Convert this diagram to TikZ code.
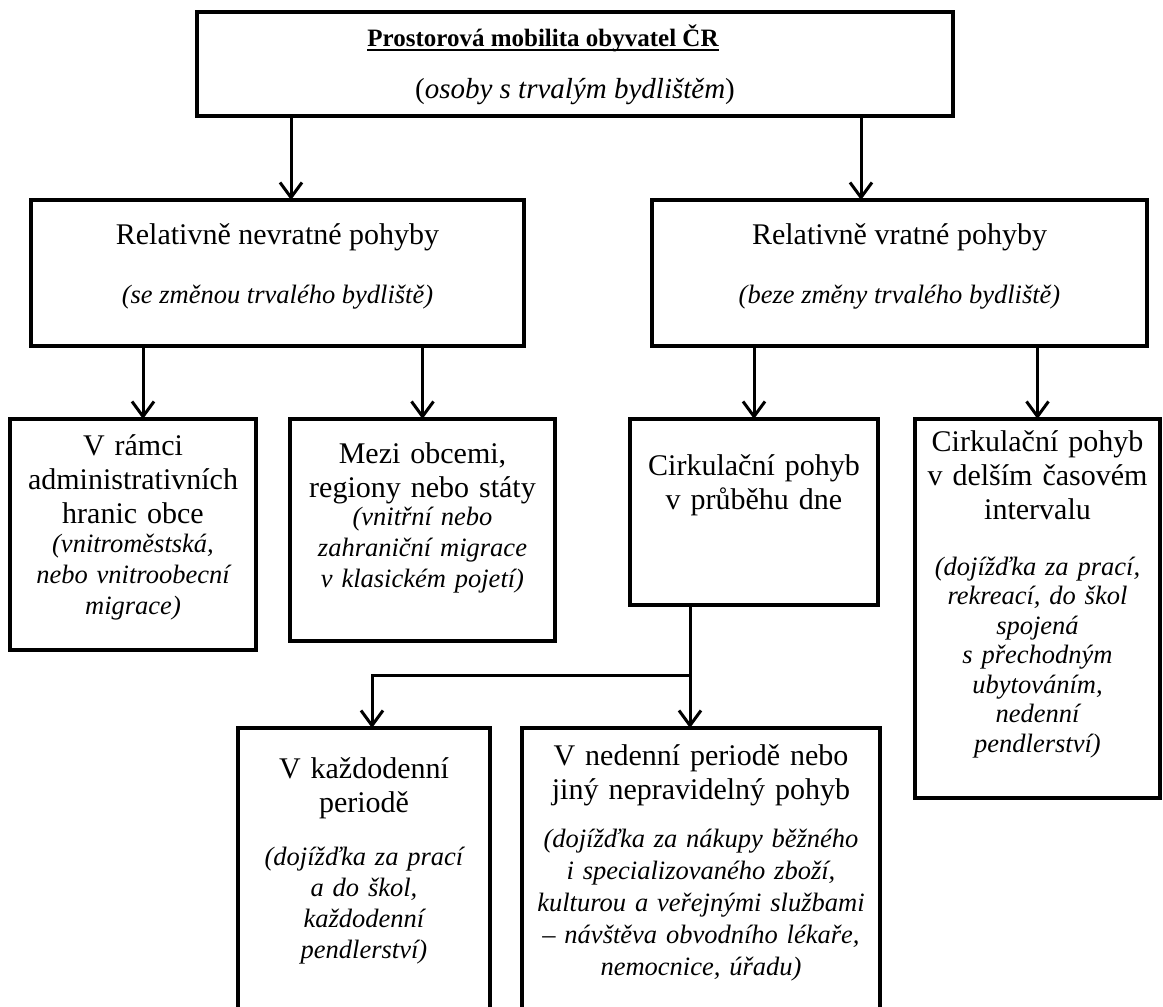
\documentclass[tikz,border=0pt]{standalone}
\usepackage{fontspec}
\setmainfont{Liberation Serif}
\usetikzlibrary{arrows.meta,calc}

\newcommand{\txthead}{\fontsize{30}{34}\selectfont}
\newcommand{\txtnote}{\itshape\fontsize{26.5}{31}\selectfont}

\begin{document}
\begin{tikzpicture}[x=1pt, y=-1pt,
  box/.style={draw, rectangle, line width=3.5pt, inner sep=0pt, outer sep=0pt},
  head/.style={anchor=base, align=center, font=\txthead},
  note/.style={anchor=base, align=center, font=\txtnote},
  link/.style={line width=3pt},
  arr/.style={line width=3pt, -{Straight Barb[length=15pt, width=22pt]}}]
  \useasboundingbox (0,0) rectangle (1163,1007);
  \clip (0,0) rectangle (1163,1007);

  % top
  \node[box, minimum width=756, minimum height=104] (mob) at (575,64) {};
  \node[head, font=\bfseries\fontsize{25}{30}\selectfont, inner sep=0pt] (mobT) at ([xshift=-32, yshift=-34]mob.north)
    {Prostorová mobilita obyvatel ČR};
  \draw[line width=1.8pt] ([yshift=-4]mobT.base west) -- ([yshift=-4]mobT.base east);
  \node[head, font=\fontsize{29}{33}\selectfont] (mobS) at ([yshift=-86]mob.north)
    {(\textit{osoby s trvalým bydlištěm})};

  % second row
  \node[box, minimum width=493, minimum height=146] (nevr) at (277.5,273) {};
  \node[head] (nevrT) at ([yshift=-44]nevr.north) {Relativně nevratné pohyby};
  \node[note] (nevrS) at ([yshift=-103]nevr.north) {(se změnou trvalého bydliště)};

  \node[box, minimum width=495, minimum height=146] (vrat) at (899.5,273) {};
  \node[head] (vratT) at ([yshift=-44]vrat.north) {Relativně vratné pohyby};
  \node[note] (vratS) at ([yshift=-103]vrat.north) {(beze změny trvalého bydliště)};

  % third row
  \node[box, minimum width=246, minimum height=231] (ramci) at (133,534.5) {};
  \node[head, text width=240] (ramciT) at ([yshift=-36]ramci.north)
    {V rámci\\ administrativních\\ hranic obce};
  \node[note, text width=240] (ramciS) at ([yshift=-133]ramci.north)
    {(vnitroměstská,\\ nebo vnitroobecní\\ migrace)};

  \node[box, minimum width=265, minimum height=222] (mezi) at (422.5,530) {};
  \node[head, text width=259] (meziT) at ([yshift=-44]mezi.north)
    {Mezi obcemi,\\ regiony nebo státy};
  \node[note, text width=259] (meziS) at ([yshift=-106]mezi.north)
    {(vnitřní nebo\\ zahraniční migrace\\ v klasickém pojetí)};

  \node[box, minimum width=248, minimum height=186] (den) at (754,512) {};
  \node[head, text width=242] (denT) at ([yshift=-56]den.north)
    {Cirkulační pohyb\\ v průběhu dne};

  \node[box, minimum width=245, minimum height=379] (delsi) at (1037.5,608.5) {};
  \node[head, text width=239] (delsiT) at ([yshift=-32]delsi.north)
    {Cirkulační pohyb\\ v delším časovém\\ intervalu};
  \node[note, text width=239, font=\itshape\fontsize{26.5}{29.5}\selectfont] (delsiS) at ([yshift=-156]delsi.north)
    {(dojížďka za prací,\\ rekreací, do škol\\ spojená\\ s přechodným\\ ubytováním,\\ nedenní\\ pendlerství)};

  % bottom row
  \node[box, minimum width=252, minimum height=312] (kazdo) at (364,884) {};
  \node[head, text width=246] (kazdoT) at ([yshift=-50]kazdo.north)
    {V každodenní\\ periodě};
  \node[note, text width=246] (kazdoS) at ([yshift=-137]kazdo.north)
    {(dojížďka za prací\\ a do škol,\\ každodenní\\ pendlerství)};

  \node[box, minimum width=358, minimum height=312] (neden) at (701,884) {};
  \node[head, text width=352] (nedenT) at ([yshift=-37]neden.north)
    {V nedenní periodě nebo\\ jiný nepravidelný pohyb};
  \node[note, text width=352, font=\itshape\fontsize{26.5}{32}\selectfont] (nedenS) at ([yshift=-119]neden.north)
    {(dojížďka za nákupy běžného\\ i specializovaného zboží,\\ kulturou a veřejnými službami\\ -- návštěva obvodního lékaře,\\ nemocnice, úřadu)};

  % arrows
  \draw[arr] ([xshift=-284]mob.south) -- ([xshift=13.5]nevr.north);
  \draw[arr] ([xshift=286]mob.south) -- ([xshift=-38.5]vrat.north);
  \draw[arr] ([xshift=-134.5]nevr.south) -- ([xshift=10]ramci.north);
  \draw[arr] ([xshift=145]nevr.south) -- (mezi.north);
  \draw[arr] ([xshift=-145.5]vrat.south) -- (den.north);
  \draw[arr] ([xshift=138]vrat.south) -- (delsi.north);

  \coordinate (split) at ($(den.south)+(-64,70)$);
  \draw[link] ([xshift=-64]den.south) -- (split);
  \draw[arr] (split) -| ([xshift=8]kazdo.north);
  \draw[arr] (split) -- (split |- neden.north);
\end{tikzpicture}
\end{document}
